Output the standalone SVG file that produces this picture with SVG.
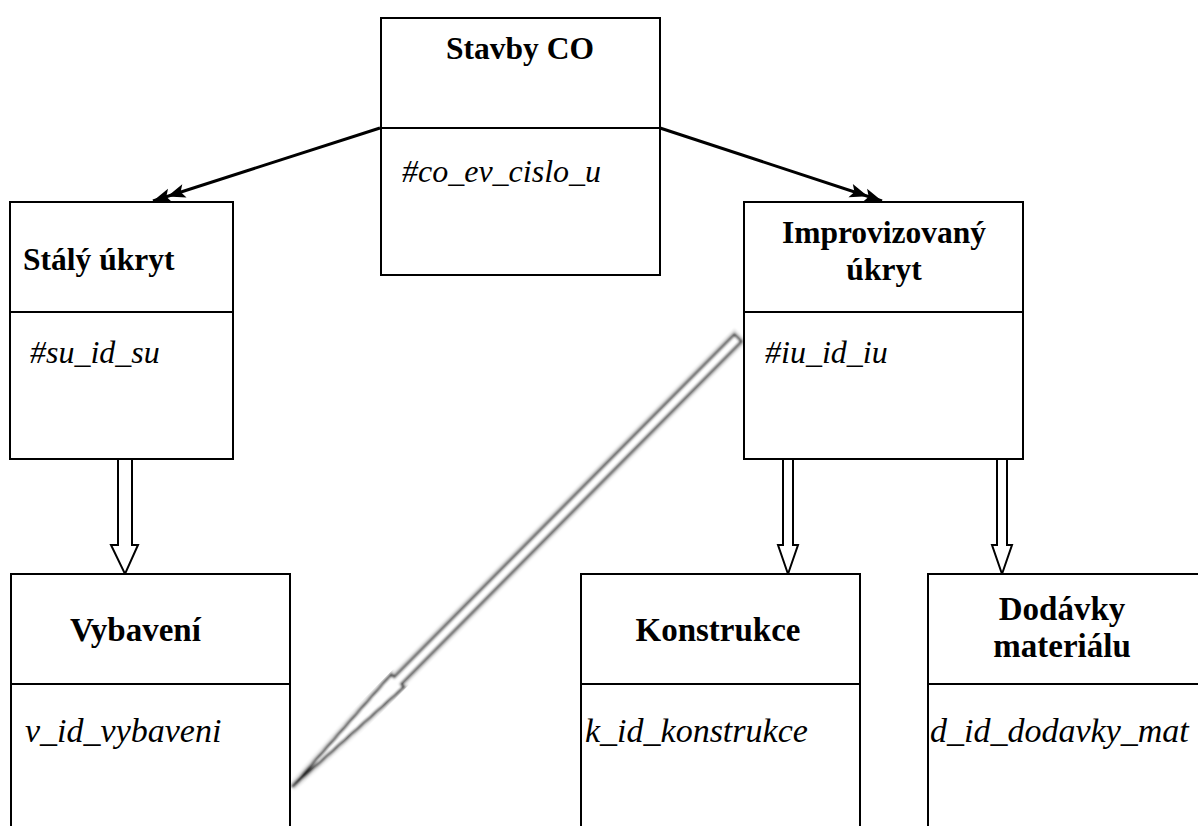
<svg xmlns="http://www.w3.org/2000/svg" width="1198" height="826" viewBox="0 0 1198 826">
  <style>
    .box { fill: #fff; stroke: #000; stroke-width: 2; }
    .div { stroke: #000; stroke-width: 2; }
    .title { font-family: "Liberation Serif", "Times New Roman", serif; font-weight: bold; font-size: 31.5px; fill: #000; }
    .big { font-size: 33px; }
    .attr { font-family: "Liberation Serif", "Times New Roman", serif; font-style: italic; font-size: 32px; fill: #000; }
    .attr2 { font-size: 34px; }
    .link { stroke: #000; stroke-width: 3; fill: none; }
    .hollow { fill: #fff; stroke: #000; stroke-width: 2; stroke-linejoin: miter; }
  </style>
  <defs>
    <marker id="dbl" markerUnits="userSpaceOnUse" viewBox="-36 -8 38 16" refX="0" refY="0" markerWidth="38" markerHeight="16" orient="auto" overflow="visible">
      <path d="M0,0 L-18,-7 L-14,0 L-18,7 Z M-15,0 L-33,-7 L-29,0 L-33,7 Z" fill="#000"/>
    </marker>
    <filter id="soft" x="-10%" y="-10%" width="120%" height="120%">
      <feGaussianBlur stdDeviation="0.8"/>
    </filter>
  </defs>

  <rect width="1198" height="826" fill="#fff"/>

  <g id="connectors">
    <line class="link" x1="380" y1="128" x2="153" y2="201" marker-end="url(#dbl)"/>
    <line class="link" x1="660" y1="128" x2="882" y2="201" marker-end="url(#dbl)"/>
    <!-- hollow block arrows -->
    <polygon class="hollow" points="118,459 132,459 132,545 138,545 125,574 111,545 118,545"/>
    <polygon class="hollow" points="783,459 793,459 793,545 798,545 788,574 778,545 783,545"/>
    <polygon class="hollow" points="997,459 1007,459 1007,545 1012,545 1002,574 992,545 997,545"/>
    <!-- long diagonal block arrow -->
    <g transform="translate(292,787) rotate(-45.2)" filter="url(#soft)">
      <polygon points="0,0 150,-9 150,-5 633,-5 633,5 150,5 150,9" fill="none" stroke="#e4e4e4" stroke-width="8"/>
      <polygon points="0,0 150,-9 150,-5 633,-5 633,5 150,5 150,9" fill="#fff" stroke="#000" stroke-width="2.4"/>
    </g>
  </g>

  <g id="stavby-co">
    <rect class="box" x="381" y="18" width="279" height="257"/>
    <line class="div" x1="381" y1="128" x2="660" y2="128"/>
    <text class="title" x="520" y="59" text-anchor="middle">Stavby CO</text>
    <text class="attr" x="402" y="182">#co_ev_cislo_u</text>
  </g>

  <g id="staly-ukryt">
    <rect class="box" x="10" y="202" width="223" height="257"/>
    <line class="div" x1="10" y1="312" x2="233" y2="312"/>
    <text class="title" x="23" y="270">Stálý úkryt</text>
    <text class="attr" x="30" y="363">#su_id_su</text>
  </g>

  <g id="improvizovany-ukryt">
    <rect class="box" x="744" y="202" width="279" height="257"/>
    <line class="div" x1="744" y1="312" x2="1023" y2="312"/>
    <text class="title" x="884" y="243" text-anchor="middle">Improvizovaný</text>
    <text class="title" x="884" y="280" text-anchor="middle">úkryt</text>
    <text class="attr" x="765" y="363">#iu_id_iu</text>
  </g>

  <g id="vybaveni">
    <path class="box" d="M11,830 L11,574 L290,574 L290,830"/>
    <line class="div" x1="11" y1="684" x2="290" y2="684"/>
    <text class="title big" x="70" y="641">Vybavení</text>
    <text class="attr attr2" x="25" y="742">v_id_vybaveni</text>
  </g>

  <g id="konstrukce">
    <path class="box" d="M581,830 L581,574 L860,574 L860,830"/>
    <line class="div" x1="581" y1="684" x2="860" y2="684"/>
    <text class="title big" x="718" y="641" text-anchor="middle">Konstrukce</text>
    <text class="attr attr2" x="585" y="742">k_id_konstrukce</text>
  </g>

  <g id="dodavky-materialu">
    <path class="box" d="M928,830 L928,574 L1200,574"/>
    <line class="div" x1="928" y1="684" x2="1200" y2="684"/>
    <text class="title big" x="1062" y="620" text-anchor="middle">Dodávky</text>
    <text class="title big" x="1062" y="657" text-anchor="middle">materiálu</text>
    <text class="attr attr2" x="930" y="742">d_id_dodavky_mat</text>
  </g>
</svg>
